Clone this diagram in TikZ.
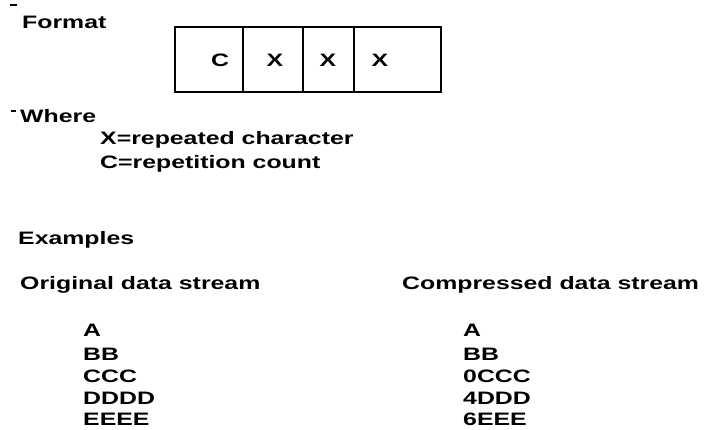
\documentclass[tikz,border=0pt]{standalone}
\usepackage{fontspec}
\setmainfont{Liberation Sans}
% wide, heavy face used for every label
\newfontfamily\widefont{Liberation Sans}[FakeStretch=1.38,BoldFont={Liberation Sans Bold}]
\begin{document}
\begin{tikzpicture}[x=1pt,y=-1pt,
  lbl/.style={anchor=base west, inner sep=0pt, font=\widefont\fontsize{18}{20}\selectfont\bfseries},
  glyph/.style={anchor=base, inner sep=0pt, font=\widefont\fontsize{18}{20}\selectfont\bfseries},
  cell/.style={draw, line width=1.6pt, minimum height=65pt, inner sep=0pt, anchor=north west},
  tick/.style={line width=1.2pt}]
\useasboundingbox (0,0) rectangle (709,430);

% small marks at the left margin
\draw[tick] (10,5) -- (17,5);
\draw[tick] (11,111) -- (16,111);

% format heading and record layout
\node[lbl] (format) at (22,28.5) {Format};
\node[cell, minimum width=68pt] (c1) at (174,26) {};
\node[cell, minimum width=60pt] (c2) at (242,26) {};
\node[cell, minimum width=51pt] (c3) at (302,26) {};
\node[cell, minimum width=87pt] (c4) at (353,26) {};
\node[glyph] (gc)  at (220,66.5) {C};
\node[glyph] (gx1) at (275,66.5) {X};
\node[glyph] (gx2) at (328,66.5) {X};
\node[glyph] (gx3) at (380,66.5) {X};

% legend
\node[lbl] (where) at (20,122.5) {Where};
\node[lbl] (defx)  at (100,144.5) {X=repeated character};
\node[lbl] (defc)  at (100,168.5) {C=repetition count};

% examples
\node[lbl] (examples) at (18,244.5) {Examples};
\node[lbl] (orig) at (20,290) {Original data stream};
\node[lbl] (comp) at (402,290) {Compressed data stream};

\node[lbl] (o1) at (83,336.5) {A};
\node[lbl] (o2) at (83,360.5) {BB};
\node[lbl] (o3) at (83,382.5) {CCC};
\node[lbl] (o4) at (83,404.5) {DDDD};
\node[lbl] (o5) at (83,425.5) {EEEE};

\node[lbl] (k1) at (463,336.5) {A};
\node[lbl] (k2) at (463,360.5) {BB};
\node[lbl] (k3) at (463,382.5) {0CCC};
\node[lbl] (k4) at (463,404.5) {4DDD};
\node[lbl] (k5) at (463,425.5) {6EEE};
\end{tikzpicture}
\end{document}
